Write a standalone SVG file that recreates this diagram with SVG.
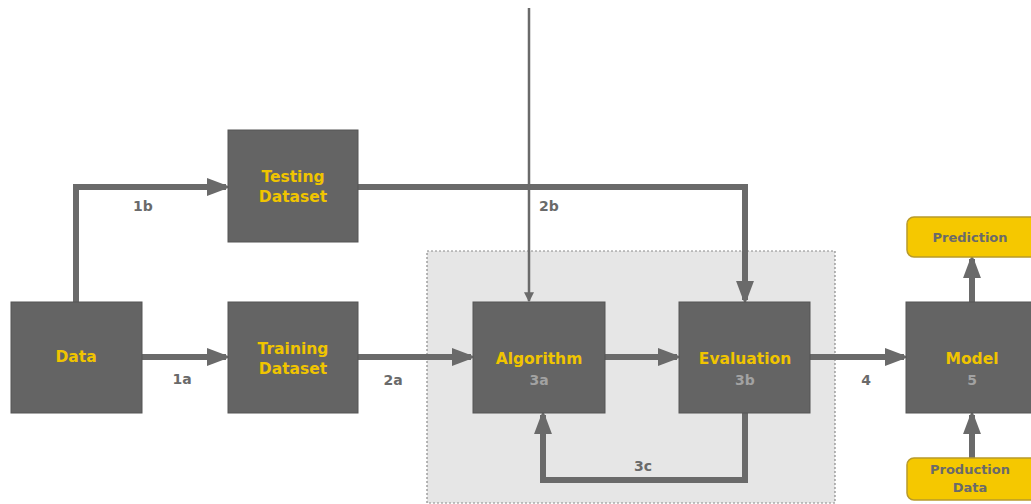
<svg xmlns="http://www.w3.org/2000/svg" width="1031" height="504" viewBox="0 0 1031 504">
  <defs>
    <marker id="arrow" markerWidth="4" markerHeight="3" refX="3.2" refY="1.5" orient="auto" markerUnits="strokeWidth">
      <path d="M0,0 L4,1.5 L0,3 z" fill="#6a6a6a"/>
    </marker>
    <marker id="arrowThin" markerWidth="4" markerHeight="4" refX="3.5" refY="2" orient="auto" markerUnits="strokeWidth">
      <path d="M0,0 L4,2 L0,4 z" fill="#6a6a6a"/>
    </marker>
    <style>
      .box { fill: #646464; stroke: #555; stroke-width: 1; }
      .pill { fill: #f5c800; stroke: #b89a2a; stroke-width: 1.5; }
      .title { font-family: "DejaVu Sans", "Liberation Sans", sans-serif; font-weight: bold; font-size: 15.5px; fill: #f0c400; text-anchor: middle; }
      .num { font-family: "DejaVu Sans", "Liberation Sans", sans-serif; font-weight: bold; font-size: 14px; fill: #a2a2a2; text-anchor: middle; }
      .pilltext { font-family: "DejaVu Sans", "Liberation Sans", sans-serif; font-weight: bold; font-size: 13px; fill: #6a6a6a; text-anchor: middle; }
      .label { font-family: "DejaVu Sans", "Liberation Sans", sans-serif; font-weight: bold; font-size: 14px; fill: #6a6a6a; text-anchor: middle; }
      .conn { fill: none; stroke: #6a6a6a; stroke-width: 6; marker-end: url(#arrow); }
      .thin { fill: none; stroke: #6a6a6a; stroke-width: 2.5; marker-end: url(#arrowThin); }
    </style>
  </defs>

  <rect width="1031" height="504" fill="#ffffff"/>

  <!-- training / evaluation area -->
  <g id="training-area">
    <rect x="427" y="251" width="408" height="252" fill="#e6e6e6" stroke="#8a8a8a" stroke-width="1.2" stroke-dasharray="2,2"/>
  </g>

  <!-- connectors -->
  <g id="connectors">
    <path class="conn" d="M76,302 V187 H226"/>
    <path class="conn" d="M141,357 H226"/>
    <path class="conn" d="M358,357 H471"/>
    <path class="conn" d="M358,187 H745 V300"/>
    <path class="thin" d="M529,8 V301"/>
    <path class="conn" d="M605,357 H677"/>
    <path class="conn" d="M745,413 V480 H543 V415"/>
    <path class="conn" d="M810,357 H904"/>
    <path class="conn" d="M972,302 V259"/>
    <path class="conn" d="M972,458 V415"/>
  </g>

  <!-- connector labels -->
  <g id="connector-labels">
    <text class="label" x="143" y="211">1b</text>
    <text class="label" x="182" y="384">1a</text>
    <text class="label" x="549" y="211">2b</text>
    <text class="label" x="393" y="385">2a</text>
    <text class="label" x="643" y="471">3c</text>
    <text class="label" x="866" y="385">4</text>
  </g>

  <g id="node-data">
    <rect class="box" x="11" y="302" width="131" height="111"/>
    <text class="title" x="76" y="362">Data</text>
  </g>

  <g id="node-testing">
    <rect class="box" x="228" y="130" width="130" height="112"/>
    <text class="title" x="293" y="182">Testing</text>
    <text class="title" x="293" y="202">Dataset</text>
  </g>

  <g id="node-training">
    <rect class="box" x="228" y="302" width="130" height="111"/>
    <text class="title" x="293" y="354">Training</text>
    <text class="title" x="293" y="374">Dataset</text>
  </g>

  <g id="node-algorithm">
    <rect class="box" x="473" y="302" width="132" height="111"/>
    <text class="title" x="539" y="364">Algorithm</text>
    <text class="num" x="539" y="385">3a</text>
  </g>

  <g id="node-evaluation">
    <rect class="box" x="679" y="302" width="131" height="111"/>
    <text class="title" x="745" y="364">Evaluation</text>
    <text class="num" x="745" y="385">3b</text>
  </g>

  <g id="node-model">
    <rect class="box" x="906" y="302" width="132" height="111"/>
    <text class="title" x="972" y="364">Model</text>
    <text class="num" x="972" y="385">5</text>
  </g>

  <g id="node-prediction">
    <rect class="pill" x="907" y="217" width="132" height="40" rx="7"/>
    <text class="pilltext" x="970" y="242">Prediction</text>
  </g>

  <g id="node-production-data">
    <rect class="pill" x="907" y="458" width="132" height="42" rx="7"/>
    <text class="pilltext" x="970" y="474">Production</text>
    <text class="pilltext" x="970" y="492">Data</text>
  </g>
</svg>
